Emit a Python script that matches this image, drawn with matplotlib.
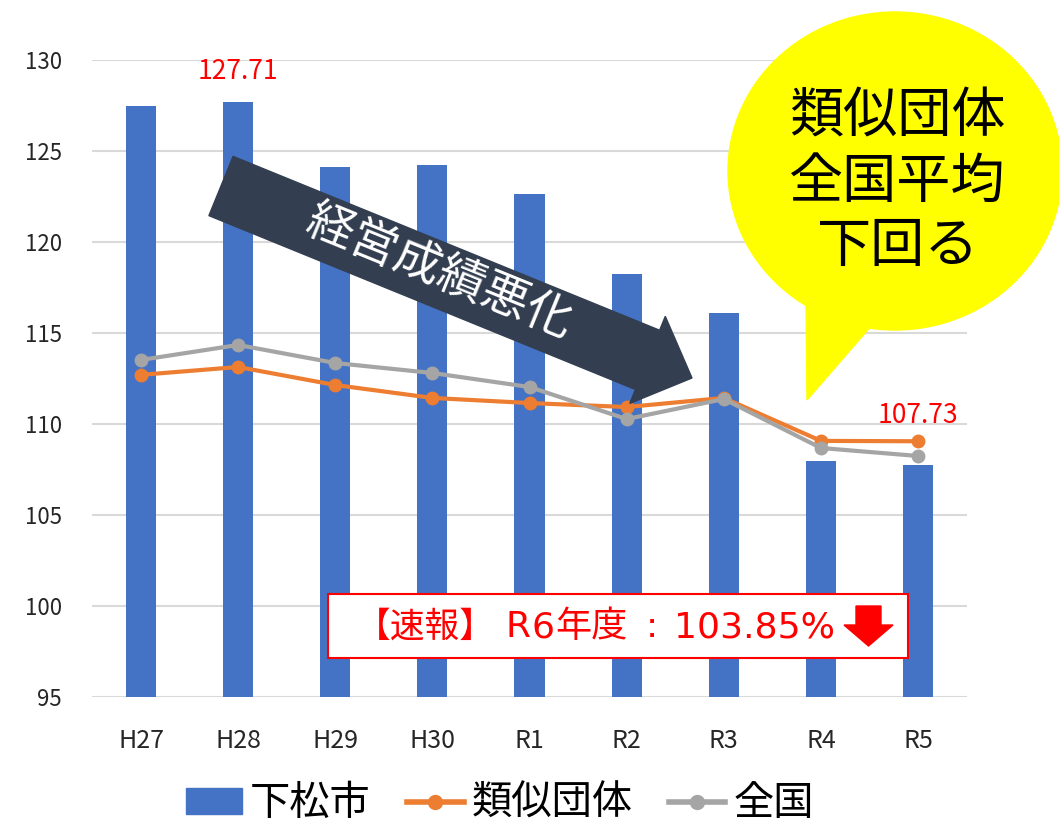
import numpy as np
import matplotlib
matplotlib.use("Agg")
import matplotlib.pyplot as plt
from matplotlib.patches import Polygon, Ellipse, Rectangle, Patch
from matplotlib.lines import Line2D

plt.rcParams['font.family'] = ['Noto Sans CJK JP', 'DejaVu Sans']

# データ
nendo = ['H27', 'H28', 'H29', 'H30', 'R1', 'R2', 'R3', 'R4', 'R5']
kudamatsu = [127.47, 127.71, 124.12, 124.23, 122.64, 118.24, 116.10, 107.97, 107.73]
ruiji = [112.70, 113.13, 112.14, 111.43, 111.15, 110.93, 111.43, 109.07, 109.05]
zenkoku = [113.52, 114.34, 113.35, 112.80, 112.03, 110.27, 111.37, 108.68, 108.24]
yticks = [95, 100, 105, 110, 115, 120, 125, 130]

AO = '#4472C4'
ORANGE = '#ED7D31'
GRAY = '#A5A5A5'

fig = plt.figure(figsize=(10.59, 8.25), dpi=100)
ax = fig.add_axes([0.0873, 0.1552, 0.8255, 0.7721])

x = np.arange(len(nendo))
ax.bar(x, kudamatsu, width=0.31, color=AO, zorder=2)
ax.plot(x, ruiji, color=ORANGE, lw=3, marker='o', ms=9, zorder=3)
ax.plot(x, zenkoku, color=GRAY, lw=3, marker='o', ms=9, zorder=3)

ax.set_ylim(95, 130)
ax.set_xlim(-0.5, len(nendo) - 0.5)
ax.set_yticks(yticks)
ax.set_xticks(x)
ax.set_xticklabels(nendo)
ax.grid(axis='y', color='#D9D9D9', lw=1.5, zorder=0)
ax.set_axisbelow(True)
for s in ax.spines.values():
    s.set_visible(False)
ax.tick_params(axis='y', length=0, pad=22, labelsize=16, labelcolor='#262626')
ax.tick_params(axis='x', length=0, pad=22, labelsize=18, labelcolor='#262626')

# データラベル
ax.text(1, kudamatsu[1] + 0.9, '127.71', color='red', fontsize=19, ha='center', va='bottom')
ax.text(8, ruiji[8] + 0.7, '107.73', color='red', fontsize=19, ha='center', va='bottom')

# 凡例
handles = [Patch(color=AO),
           Line2D([], [], color=ORANGE, lw=4, marker='o', ms=10),
           Line2D([], [], color=GRAY, lw=4, marker='o', ms=10)]
fig.legend(handles, ['下松市', '類似団体', '全国'], loc='center',
           bbox_to_anchor=(0.472, 0.026), ncol=3, frameon=False, fontsize=29,
           handlelength=1.4, handleheight=0.6, columnspacing=0.9, handletextpad=0.2)

# 図形レイヤー（ピクセル座標）
ov = fig.add_axes([0, 0, 1, 1])
ov.set_xlim(0, 1059)
ov.set_ylim(825, 0)
ov.axis('off')
ov.patch.set_alpha(0)

# 矢印
p0 = np.array([221.0, 186.0])
tip = np.array([692.0, 378.0])
d = (tip - p0) / np.linalg.norm(tip - p0)
n = np.array([-d[1], d[0]])
hl, bw, hw = 48, 64, 94
hb = tip - hl * d
pts = [p0 - bw / 2 * n, hb - bw / 2 * n, hb - hw / 2 * n, tip,
       hb + hw / 2 * n, hb + bw / 2 * n, p0 + bw / 2 * n]
ov.add_patch(Polygon(pts, closed=True, color='#333F50', zorder=5))
ang = -np.degrees(np.arctan2(d[1], d[0]))
ov.text(440, 272, '経営成績悪化', color='white', fontsize=34, rotation=ang,
        rotation_mode='anchor', ha='center', va='center', zorder=6)

# 吹き出し
ov.add_patch(Ellipse((895, 171), 334, 318, color='#FFFF00', zorder=5))
ov.add_patch(Polygon([(806, 300), (872, 325), (807, 400)], closed=True,
                     color='#FFFF00', zorder=5))
for yy, s in zip([117, 182, 246], ['類似団体', '全国平均', '下回る']):
    ov.text(897, yy, s, fontsize=39, ha='center', va='center', color='black', zorder=6)

# 速報ボックス
ov.add_patch(Rectangle((328, 594), 580, 64, facecolor='white', edgecolor='red',
                       lw=1.5, zorder=5))
yb = 627
ov.text(356, yb, '【速報】', color='red', fontsize=25, ha='left', va='center', zorder=6)
for xc, s, fam in [(518, 'R', 'DejaVu Sans'), (543, '6', 'DejaVu Sans'),
                   (591, '年度', None), (652, ':', 'DejaVu Sans'),
                   (754, '103.85%', 'DejaVu Sans')]:
    kw = {'family': fam} if fam else {}
    ov.text(xc, yb, s, color='red', fontsize=26, ha='center', va='center',
            zorder=6, **kw)
ov.add_patch(Polygon([(856, 606), (881, 606), (881, 625), (893, 625), (868.5, 646),
                      (844, 625), (856, 625)], closed=True, color='red', zorder=6))

fig.savefig('out.png', dpi=100)
